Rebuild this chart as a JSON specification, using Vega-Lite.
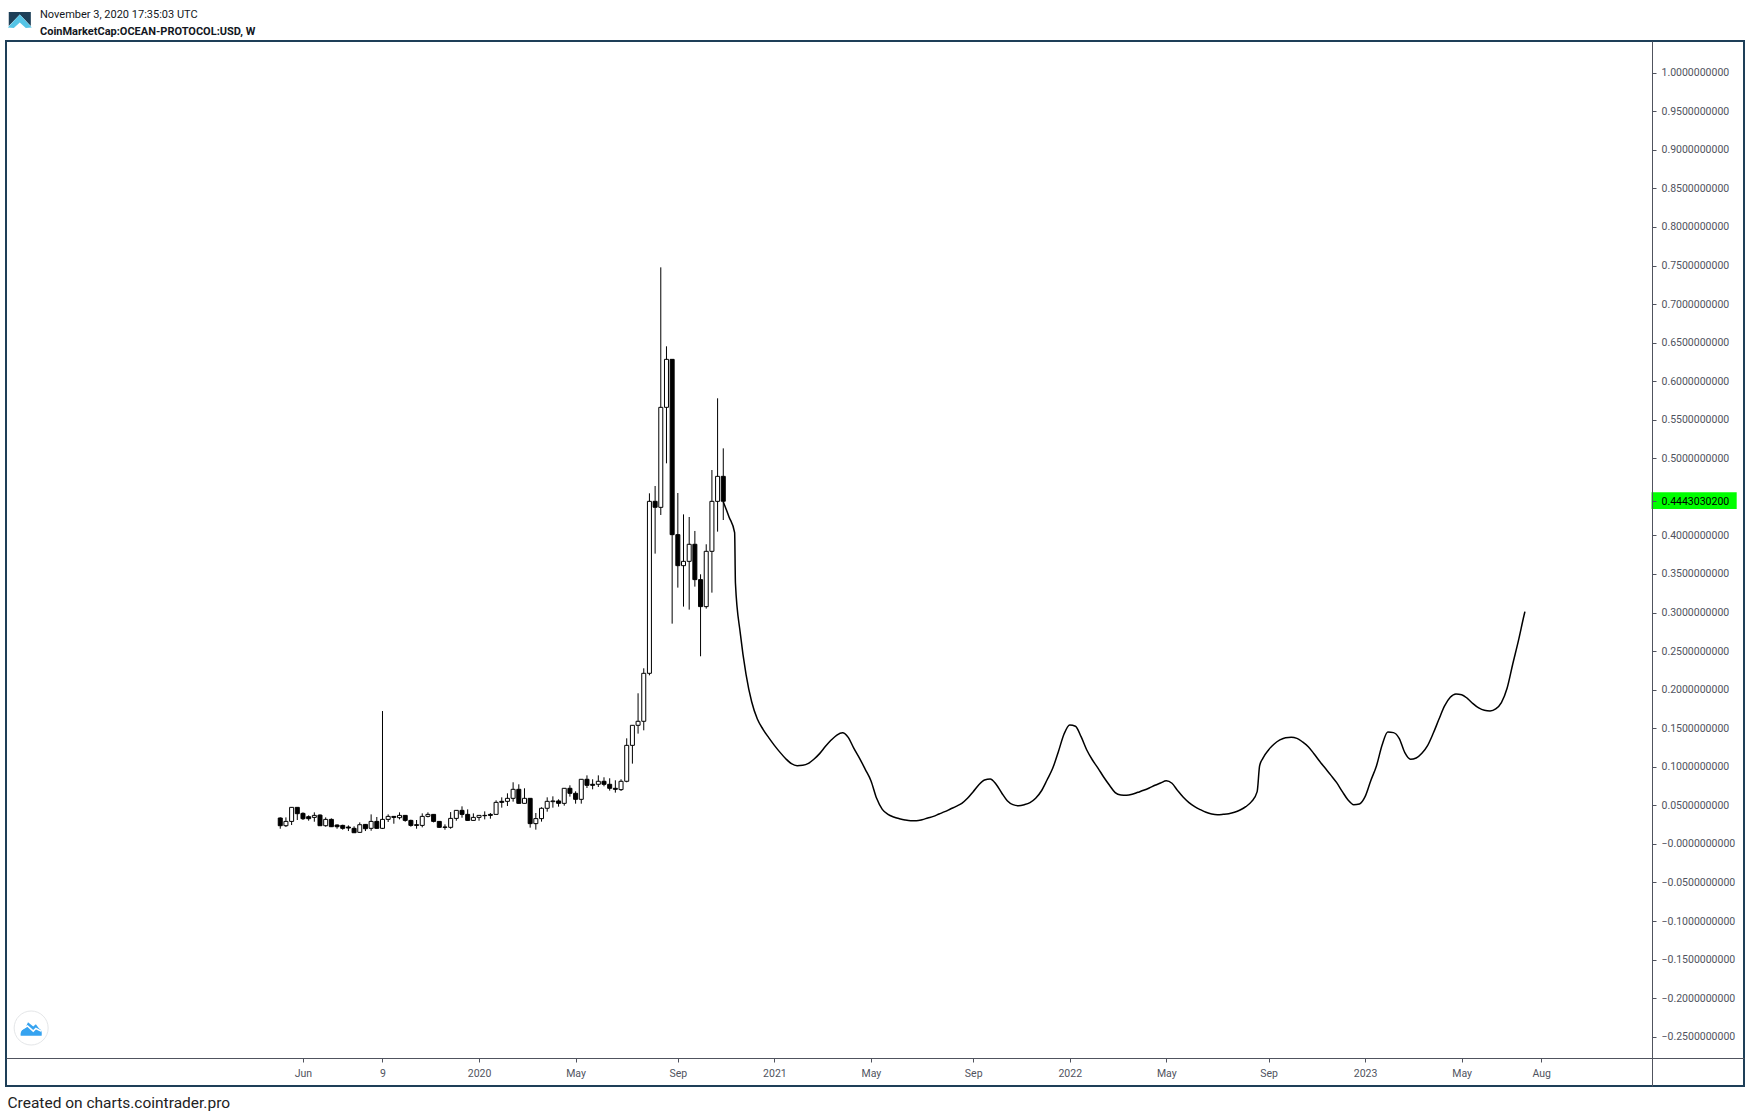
{"$schema":"https://vega.github.io/schema/vega-lite/v6.json","width":1738,"height":1045,"autosize":"none","padding":{"left":6,"top":41,"right":6,"bottom":31},"background":"#ffffff","view":{"stroke":"#1e3f58","strokeWidth":2,"fill":"#ffffff"},
"title":{"text":"November 3, 2020 17:35:03 UTC","subtitle":"CoinMarketCap:OCEAN-PROTOCOL:USD, W","anchor":"start","frame":"group","dx":34,"offset":-25,"font":"Roboto","fontSize":11,"fontWeight":"normal","color":"#131722","subtitleFont":"Roboto","subtitleFontSize":11,"subtitleFontWeight":"bold","subtitleColor":"#131722","subtitlePadding":6},
"datasets":{
"candles":[
{"date":"2019-05-06","open":0.0336,"close":0.0236,"high":0.0344,"low":0.0197,"dir":"down"},
{"date":"2019-05-13","open":0.0236,"close":0.0292,"high":0.0344,"low":0.0219,"dir":"up"},
{"date":"2019-05-20","open":0.0292,"close":0.0474,"high":0.0474,"low":0.0245,"dir":"up"},
{"date":"2019-05-27","open":0.0474,"close":0.0392,"high":0.0474,"low":0.031,"dir":"down"},
{"date":"2019-06-03","open":0.0396,"close":0.0327,"high":0.0409,"low":0.031,"dir":"down"},
{"date":"2019-06-10","open":0.0353,"close":0.0327,"high":0.037,"low":0.0301,"dir":"down"},
{"date":"2019-06-17","open":0.0344,"close":0.037,"high":0.0409,"low":0.0288,"dir":"up"},
{"date":"2019-06-24","open":0.0374,"close":0.0236,"high":0.0383,"low":0.0232,"dir":"down"},
{"date":"2019-07-01","open":0.0236,"close":0.0318,"high":0.0344,"low":0.0223,"dir":"up"},
{"date":"2019-07-08","open":0.0318,"close":0.0223,"high":0.0331,"low":0.0219,"dir":"down"},
{"date":"2019-07-15","open":0.0245,"close":0.0223,"high":0.0253,"low":0.0197,"dir":"down"},
{"date":"2019-07-22","open":0.024,"close":0.0202,"high":0.0249,"low":0.0184,"dir":"down"},
{"date":"2019-07-29","open":0.0219,"close":0.0206,"high":0.024,"low":0.0167,"dir":"down"},
{"date":"2019-08-05","open":0.0202,"close":0.0145,"high":0.0228,"low":0.0145,"dir":"down"},
{"date":"2019-08-12","open":0.015,"close":0.0249,"high":0.0279,"low":0.0145,"dir":"up"},
{"date":"2019-08-19","open":0.0253,"close":0.0197,"high":0.0258,"low":0.0167,"dir":"down"},
{"date":"2019-08-26","open":0.0202,"close":0.0292,"high":0.0383,"low":0.0171,"dir":"up"},
{"date":"2019-09-02","open":0.0292,"close":0.0202,"high":0.0349,"low":0.0197,"dir":"down"},
{"date":"2019-09-09","open":0.0202,"close":0.0318,"high":0.1723,"low":0.0193,"dir":"up"},
{"date":"2019-09-16","open":0.0318,"close":0.0357,"high":0.0383,"low":0.0284,"dir":"up"},
{"date":"2019-09-23","open":0.0357,"close":0.0344,"high":0.0357,"low":0.0262,"dir":"down"},
{"date":"2019-09-30","open":0.034,"close":0.037,"high":0.0409,"low":0.0318,"dir":"up"},
{"date":"2019-10-07","open":0.037,"close":0.0305,"high":0.0374,"low":0.0288,"dir":"down"},
{"date":"2019-10-14","open":0.0305,"close":0.024,"high":0.0314,"low":0.0223,"dir":"down"},
{"date":"2019-10-21","open":0.0249,"close":0.024,"high":0.031,"low":0.0197,"dir":"down"},
{"date":"2019-10-28","open":0.024,"close":0.0357,"high":0.0396,"low":0.0215,"dir":"up"},
{"date":"2019-11-04","open":0.0357,"close":0.0383,"high":0.0409,"low":0.0344,"dir":"up"},
{"date":"2019-11-11","open":0.0383,"close":0.0292,"high":0.0383,"low":0.0279,"dir":"down"},
{"date":"2019-11-18","open":0.0292,"close":0.0215,"high":0.0292,"low":0.021,"dir":"down"},
{"date":"2019-11-25","open":0.0219,"close":0.0215,"high":0.0253,"low":0.0184,"dir":"down"},
{"date":"2019-12-02","open":0.0215,"close":0.0331,"high":0.0413,"low":0.0197,"dir":"up"},
{"date":"2019-12-09","open":0.0331,"close":0.0435,"high":0.0435,"low":0.0301,"dir":"up"},
{"date":"2019-12-16","open":0.0435,"close":0.0383,"high":0.0487,"low":0.034,"dir":"down"},
{"date":"2019-12-23","open":0.0383,"close":0.0305,"high":0.0448,"low":0.0301,"dir":"down"},
{"date":"2019-12-30","open":0.0305,"close":0.0344,"high":0.0396,"low":0.0305,"dir":"up"},
{"date":"2020-01-06","open":0.0344,"close":0.037,"high":0.037,"low":0.0301,"dir":"up"},
{"date":"2020-01-13","open":0.037,"close":0.0366,"high":0.0422,"low":0.0318,"dir":"down"},
{"date":"2020-01-20","open":0.0383,"close":0.037,"high":0.04,"low":0.0327,"dir":"down"},
{"date":"2020-01-27","open":0.0383,"close":0.0539,"high":0.0565,"low":0.0379,"dir":"up"},
{"date":"2020-02-03","open":0.0552,"close":0.0539,"high":0.0604,"low":0.047,"dir":"down"},
{"date":"2020-02-10","open":0.0552,"close":0.0591,"high":0.0656,"low":0.0492,"dir":"up"},
{"date":"2020-02-17","open":0.0591,"close":0.0708,"high":0.0799,"low":0.0548,"dir":"up"},
{"date":"2020-02-24","open":0.0708,"close":0.0526,"high":0.0773,"low":0.0522,"dir":"down"},
{"date":"2020-03-02","open":0.0526,"close":0.0591,"high":0.0721,"low":0.0522,"dir":"up"},
{"date":"2020-03-09","open":0.0591,"close":0.0263,"high":0.0591,"low":0.0211,"dir":"down"},
{"date":"2020-03-16","open":0.0263,"close":0.0328,"high":0.0401,"low":0.0185,"dir":"up"},
{"date":"2020-03-23","open":0.0328,"close":0.0462,"high":0.0475,"low":0.0289,"dir":"up"},
{"date":"2020-03-30","open":0.0462,"close":0.0552,"high":0.0604,"low":0.0418,"dir":"up"},
{"date":"2020-04-06","open":0.0548,"close":0.0557,"high":0.0617,"low":0.047,"dir":"up"},
{"date":"2020-04-13","open":0.0557,"close":0.0526,"high":0.0578,"low":0.0483,"dir":"down"},
{"date":"2020-04-20","open":0.0526,"close":0.0721,"high":0.0721,"low":0.0496,"dir":"up"},
{"date":"2020-04-27","open":0.0721,"close":0.0656,"high":0.076,"low":0.0613,"dir":"down"},
{"date":"2020-05-04","open":0.0656,"close":0.0578,"high":0.0682,"low":0.0522,"dir":"down"},
{"date":"2020-05-11","open":0.0578,"close":0.0838,"high":0.0838,"low":0.0522,"dir":"up"},
{"date":"2020-05-18","open":0.0838,"close":0.076,"high":0.0889,"low":0.0725,"dir":"down"},
{"date":"2020-05-25","open":0.0773,"close":0.076,"high":0.0838,"low":0.0708,"dir":"down"},
{"date":"2020-06-01","open":0.0773,"close":0.0812,"high":0.0889,"low":0.0738,"dir":"up"},
{"date":"2020-06-08","open":0.0812,"close":0.0773,"high":0.0864,"low":0.0747,"dir":"down"},
{"date":"2020-06-15","open":0.0773,"close":0.0721,"high":0.0851,"low":0.0691,"dir":"down"},
{"date":"2020-06-22","open":0.0721,"close":0.0708,"high":0.0825,"low":0.0665,"dir":"down"},
{"date":"2020-06-29","open":0.0704,"close":0.0812,"high":0.0838,"low":0.0686,"dir":"up"},
{"date":"2020-07-06","open":0.0812,"close":0.1278,"high":0.1369,"low":0.0799,"dir":"up"},
{"date":"2020-07-13","open":0.1278,"close":0.1538,"high":0.1538,"low":0.1041,"dir":"up"},
{"date":"2020-07-20","open":0.1538,"close":0.159,"high":0.1953,"low":0.143,"dir":"up"},
{"date":"2020-07-27","open":0.159,"close":0.2212,"high":0.2277,"low":0.1473,"dir":"up"},
{"date":"2020-08-03","open":0.2212,"close":0.4442,"high":0.4546,"low":0.2186,"dir":"up"},
{"date":"2020-08-10","open":0.4442,"close":0.4365,"high":0.4641,"low":0.3764,"dir":"down"},
{"date":"2020-08-17","open":0.4364,"close":0.5661,"high":0.7476,"low":0.4265,"dir":"up"},
{"date":"2020-08-24","open":0.5661,"close":0.6283,"high":0.6452,"low":0.4935,"dir":"up"},
{"date":"2020-08-31","open":0.6283,"close":0.401,"high":0.6283,"low":0.2856,"dir":"down"},
{"date":"2020-09-07","open":0.401,"close":0.3608,"high":0.455,"low":0.3323,"dir":"down"},
{"date":"2020-09-14","open":0.3608,"close":0.3664,"high":0.4273,"low":0.3077,"dir":"up"},
{"date":"2020-09-21","open":0.3664,"close":0.3885,"high":0.4239,"low":0.3038,"dir":"up"},
{"date":"2020-09-28","open":0.3885,"close":0.3427,"high":0.4058,"low":0.3336,"dir":"down"},
{"date":"2020-10-05","open":0.3427,"close":0.3077,"high":0.3496,"low":0.2433,"dir":"down"},
{"date":"2020-10-12","open":0.3077,"close":0.3794,"high":0.3885,"low":0.3051,"dir":"up"},
{"date":"2020-10-19","open":0.3794,"close":0.4442,"high":0.4848,"low":0.3258,"dir":"up"},
{"date":"2020-10-26","open":0.4442,"close":0.4766,"high":0.5778,"low":0.4049,"dir":"up"},
{"date":"2020-11-02","open":0.4766,"close":0.4443,"high":0.5129,"low":0.42,"dir":"down"}
],
"projection":[
{"date":"2020-11-02","price":0.4438},{"date":"2020-11-09","price":0.4243},{"date":"2020-11-16","price":0.4036},{"date":"2020-11-17","price":0.3379},{"date":"2020-11-23","price":0.273},{"date":"2020-11-30","price":0.2203},{"date":"2020-12-07","price":0.1844},{"date":"2020-12-14","price":0.162},{"date":"2020-12-21","price":0.1486},{"date":"2020-12-28","price":0.1378},
{"date":"2021-01-04","price":0.1278},{"date":"2021-01-11","price":0.1187},{"date":"2021-01-18","price":0.1105},{"date":"2021-01-25","price":0.104},{"date":"2021-02-01","price":0.1014},{"date":"2021-02-08","price":0.1019},{"date":"2021-02-15","price":0.1045},{"date":"2021-02-22","price":0.1101},{"date":"2021-03-01","price":0.1174},{"date":"2021-03-08","price":0.1265},{"date":"2021-03-15","price":0.1347},{"date":"2021-03-22","price":0.1412},{"date":"2021-03-29","price":0.1442},{"date":"2021-04-05","price":0.1382},{"date":"2021-04-12","price":0.1239},{"date":"2021-04-19","price":0.111},{"date":"2021-04-26","price":0.0967},{"date":"2021-05-03","price":0.082},{"date":"2021-05-10","price":0.0591},{"date":"2021-05-17","price":0.0448},{"date":"2021-05-24","price":0.0383},{"date":"2021-05-31","price":0.0349},{"date":"2021-06-07","price":0.0327},{"date":"2021-06-14","price":0.031},{"date":"2021-06-21","price":0.0301},{"date":"2021-06-28","price":0.0301},{"date":"2021-07-05","price":0.0314},{"date":"2021-07-12","price":0.0336},{"date":"2021-07-19","price":0.0357},{"date":"2021-07-26","price":0.0388},{"date":"2021-08-02","price":0.0418},{"date":"2021-08-09","price":0.0453},{"date":"2021-08-16","price":0.0487},{"date":"2021-08-23","price":0.0526},{"date":"2021-08-30","price":0.0591},{"date":"2021-09-06","price":0.0677},{"date":"2021-09-13","price":0.0768},{"date":"2021-09-20","price":0.0829},{"date":"2021-09-27","price":0.0842},{"date":"2021-10-04","price":0.0777},{"date":"2021-10-11","price":0.0664},{"date":"2021-10-18","price":0.0561},{"date":"2021-10-25","price":0.051},
{"date":"2021-11-01","price":0.0496},{"date":"2021-11-08","price":0.0509},{"date":"2021-11-15","price":0.0535},{"date":"2021-11-22","price":0.0591},{"date":"2021-11-29","price":0.0686},{"date":"2021-12-06","price":0.0829},{"date":"2021-12-13","price":0.098},{"date":"2021-12-20","price":0.1196},{"date":"2021-12-27","price":0.1425},
{"date":"2022-01-03","price":0.1542},{"date":"2022-01-10","price":0.1525},{"date":"2022-01-17","price":0.1391},{"date":"2022-01-24","price":0.1218},{"date":"2022-01-31","price":0.1088},{"date":"2022-02-07","price":0.098},{"date":"2022-02-14","price":0.0864},{"date":"2022-02-21","price":0.076},{"date":"2022-02-28","price":0.0665},{"date":"2022-03-07","price":0.0634},{"date":"2022-03-14","price":0.063},{"date":"2022-03-21","price":0.0643},{"date":"2022-03-28","price":0.0669},{"date":"2022-04-04","price":0.0695},{"date":"2022-04-11","price":0.0725},{"date":"2022-04-18","price":0.076},{"date":"2022-04-25","price":0.079},{"date":"2022-05-02","price":0.082},{"date":"2022-05-09","price":0.0786},{"date":"2022-05-16","price":0.0691},{"date":"2022-05-23","price":0.0604},{"date":"2022-05-30","price":0.0535},{"date":"2022-06-06","price":0.0483},{"date":"2022-06-13","price":0.0444},{"date":"2022-06-20","price":0.041},{"date":"2022-06-27","price":0.0388},{"date":"2022-07-04","price":0.0379},{"date":"2022-07-11","price":0.0384},{"date":"2022-07-18","price":0.0392},{"date":"2022-07-25","price":0.041},{"date":"2022-08-01","price":0.044},{"date":"2022-08-08","price":0.0483},{"date":"2022-08-15","price":0.0548},{"date":"2022-08-22","price":0.0678},{"date":"2022-08-25","price":0.1011},{"date":"2022-08-29","price":0.111},{"date":"2022-09-05","price":0.1218},{"date":"2022-09-12","price":0.1296},{"date":"2022-09-19","price":0.1348},{"date":"2022-09-26","price":0.1378},{"date":"2022-10-03","price":0.1382},{"date":"2022-10-10","price":0.1369},{"date":"2022-10-17","price":0.1322},{"date":"2022-10-24","price":0.1261},{"date":"2022-10-31","price":0.117},{"date":"2022-11-07","price":0.1071},{"date":"2022-11-14","price":0.098},{"date":"2022-11-21","price":0.0889},{"date":"2022-11-28","price":0.0794},{"date":"2022-12-05","price":0.0678},{"date":"2022-12-12","price":0.057},{"date":"2022-12-19","price":0.0509},{"date":"2022-12-26","price":0.0518},
{"date":"2023-01-02","price":0.0613},{"date":"2023-01-09","price":0.082},{"date":"2023-01-16","price":0.1011},{"date":"2023-01-23","price":0.1283},{"date":"2023-01-30","price":0.1451},{"date":"2023-02-06","price":0.1443},{"date":"2023-02-13","price":0.1369},{"date":"2023-02-20","price":0.1183},{"date":"2023-02-27","price":0.1097},{"date":"2023-03-06","price":0.1114},{"date":"2023-03-13","price":0.1175},{"date":"2023-03-20","price":0.1274},{"date":"2023-03-27","price":0.1434},{"date":"2023-04-03","price":0.1616},{"date":"2023-04-10","price":0.1789},{"date":"2023-04-17","price":0.1901},{"date":"2023-04-24","price":0.1944},{"date":"2023-05-01","price":0.1935},{"date":"2023-05-08","price":0.1888},{"date":"2023-05-15","price":0.1819},{"date":"2023-05-22","price":0.1763},{"date":"2023-05-29","price":0.1732},{"date":"2023-06-05","price":0.1724},{"date":"2023-06-12","price":0.175},{"date":"2023-06-19","price":0.1832},{"date":"2023-06-26","price":0.2018},{"date":"2023-07-03","price":0.2333},{"date":"2023-07-10","price":0.2636},{"date":"2023-07-17","price":0.2968},{"date":"2023-07-18","price":0.3012}
],
"lastPrice":[{"start":"2023-12-21","end":"2024-04-04","top":0.4559,"bottom":0.4343}],
"logo":[{"date":"2018-06-19","price":1.0683}],
"badge":[{"date":"2018-07-03","price":-0.2387}]
},
"layer":[
{"data":{"name":"badge"},"mark":{"type":"point","shape":"circle","size":1156,"filled":true,"fill":"#ffffff","stroke":"#e4e6e8","strokeWidth":1,"opacity":1},"encoding":{"x":{"field":"date","type":"temporal","scale":{"type":"utc","domain":[{"year":2018,"month":6,"date":2,"utc":true},{"year":2024,"month":4,"date":13,"utc":true}],"nice":false,"padding":0},"axis":{"orient":"bottom","offset":-28,"values":[{"year":2019,"month":6,"date":3,"utc":true},{"year":2019,"month":9,"date":9,"utc":true},{"year":2020,"month":1,"date":6,"utc":true},{"year":2020,"month":5,"date":4,"utc":true},{"year":2020,"month":9,"date":7,"utc":true},{"year":2021,"month":1,"date":4,"utc":true},{"year":2021,"month":5,"date":3,"utc":true},{"year":2021,"month":9,"date":6,"utc":true},{"year":2022,"month":1,"date":3,"utc":true},{"year":2022,"month":5,"date":2,"utc":true},{"year":2022,"month":9,"date":5,"utc":true},{"year":2023,"month":1,"date":2,"utc":true},{"year":2023,"month":5,"date":1,"utc":true},{"year":2023,"month":8,"date":7,"utc":true}],"labelExpr":"utcmonth(datum.value)==0?utcFormat(datum.value,'%Y'):(utcdate(datum.value)==9?'9':utcFormat(datum.value,'%b'))","grid":false,"domainColor":"#50535e","domainWidth":1,"tickColor":"#50535e","tickSize":4,"labelColor":"#50535e","labelFont":"Roboto","labelFontSize":10.5,"labelPadding":6,"labelOverlap":false,"labelFlush":false,"title":"Created on charts.cointrader.pro","titleFont":"Roboto","titleFontSize":15.5,"titleFontWeight":"normal","titleColor":"#222222","titleAnchor":"start","titleAlign":"left","titleBaseline":"alphabetic","titleX":1,"titleY":49}},"y":{"field":"price","type":"quantitative","scale":{"domain":[-0.3139,1.0411],"nice":false,"zero":false},"axis":{"orient":"right","offset":-92,"zindex":1,"values":[-0.25,-0.2,-0.15,-0.1,-0.05,0,0.05,0.1,0.15,0.2,0.25,0.3,0.35,0.4,0.4443,0.5,0.55,0.6,0.65,0.7,0.75,0.8,0.85,0.9,0.95,1],"labelExpr":"datum.value==0?'−0.0000000000':datum.value==0.4443?'0.4443030200':format(datum.value,'.10f')","grid":false,"domainColor":"#50535e","domainWidth":1,"tickColor":"#50535e","tickSize":4,"labelColor":{"condition":{"test":"datum.value==0.4443","value":"#000000"},"value":"#50535e"},"labelFont":"Roboto","labelFontSize":10.5,"labelPadding":5,"labelOverlap":false,"labelFlush":false,"title":null}}}},
{"data":{"name":"badge"},"mark":{"type":"point","shape":"M-1 0.75 C-1.05 0.3 -0.8 0.05 -0.55 0 L-0.3 -0.55 L0.2 -0.15 L0.45 -0.35 L0.75 0.05 C1 0.15 1.05 0.45 1 0.75 Z","size":440,"filled":true,"fill":"#36a3f0","stroke":null,"opacity":1},"encoding":{"x":{"field":"date","type":"temporal"},"y":{"field":"price","type":"quantitative"}}},
{"data":{"name":"badge"},"mark":{"type":"point","shape":"M-1 0.2 L-0.35 -0.2 L0.2 0.3 L0.45 0.05 L0.95 0.3","size":440,"filled":false,"stroke":"#ffffff","strokeWidth":1.6,"opacity":1},"encoding":{"x":{"field":"date","type":"temporal"},"y":{"field":"price","type":"quantitative"}}},
{"data":{"name":"logo"},"mark":{"type":"point","shape":"M-0.92 -0.67 L0.92 -0.67 L0.92 0.5 L0 -0.45 L-0.92 0.5 Z","size":576,"filled":true,"fill":"#1d3f58","stroke":null,"opacity":1},"encoding":{"x":{"field":"date","type":"temporal"},"y":{"field":"price","type":"quantitative"}}},
{"data":{"name":"logo"},"mark":{"type":"point","shape":"M0 -0.45 L1 0.62 L0.5 0.67 L0 0.2 L-0.5 0.67 L-1 0.62 Z","size":576,"filled":true,"fill":"#55c4e6","stroke":null,"opacity":1},"encoding":{"x":{"field":"date","type":"temporal"},"y":{"field":"price","type":"quantitative"}}},
{"data":{"name":"candles"},"mark":{"type":"rule","color":"#000000","strokeWidth":1},"encoding":{"x":{"field":"date","type":"temporal"},"y":{"field":"low","type":"quantitative"},"y2":{"field":"high"}}},
{"data":{"name":"candles"},"mark":{"type":"bar","size":4,"stroke":"#000000","strokeWidth":1},"encoding":{"x":{"field":"date","type":"temporal"},"y":{"field":"open","type":"quantitative"},"y2":{"field":"close"},"fill":{"field":"dir","type":"nominal","scale":{"domain":["up","down"],"range":["#ffffff","#000000"]},"legend":null}}},
{"data":{"name":"projection"},"mark":{"type":"line","color":"#000000","strokeWidth":1.5,"interpolate":"monotone"},"encoding":{"x":{"field":"date","type":"temporal"},"y":{"field":"price","type":"quantitative"}}},
{"data":{"name":"lastPrice","format":{"parse":{"start":"date","end":"date"}}},"mark":{"type":"rect","color":"#00ff00"},"encoding":{"x":{"field":"start","type":"temporal"},"x2":{"field":"end"},"y":{"field":"top","type":"quantitative"},"y2":{"field":"bottom"}}}
]}
